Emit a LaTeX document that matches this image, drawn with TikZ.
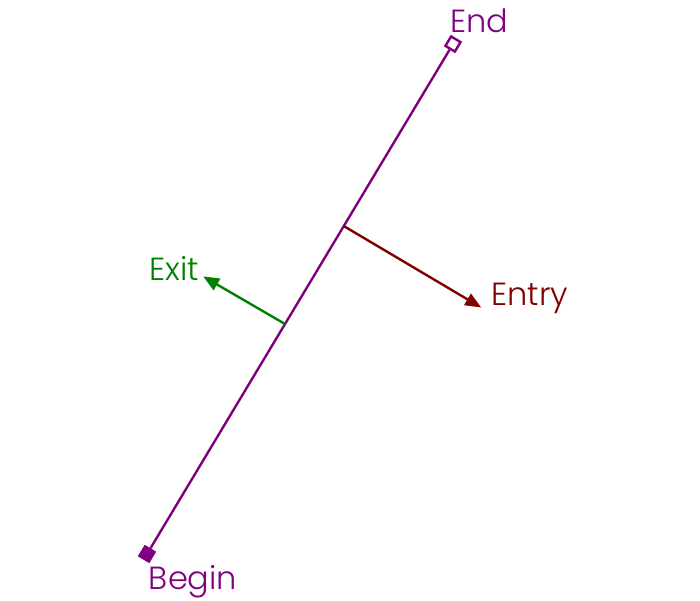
\documentclass[tikz,border=0pt]{standalone}
\usepackage{fontspec}
\newfontfamily\labelfont{Poppins Light}
\usetikzlibrary{arrows.meta,calc}
\definecolor{segpurple}{RGB}{128,0,128}
\definecolor{exitgreen}{RGB}{0,128,0}
\definecolor{entrymaroon}{RGB}{128,0,0}

\begin{document}
\begin{tikzpicture}[
    x=0.5pt,y=0.5pt,
    endsq/.style={draw=segpurple,line width=1.2pt,minimum size=5.5pt,inner sep=0pt,rotate=59},
    lbl/.style={font=\fontsize{16}{16}\selectfont\labelfont,inner sep=1pt},
    seg/.style={draw=segpurple,line width=1.2pt},
    dir/.style={-{Triangle[length=8pt,width=6.5pt]},line width=1.2pt},
]

\useasboundingbox (0,0) rectangle (700,600);

%----------------------------------
% Segment with its two ends
%----------------------------------

\node[endsq,fill=segpurple] (bsq) at (147,46) {};
\node[endsq,fill=white] (esq) at (453,556) {};

\draw[seg] (bsq) -- (esq);

\node[lbl,text=segpurple] (begin) at (193,18) {Begin};
\node[lbl,text=segpurple] (end) at (479,579) {End};

%----------------------------------
% Normals
%----------------------------------

\coordinate (exitfoot) at ($(bsq)!0.451!(esq)$);
\coordinate (entryfoot) at ($(bsq)!0.643!(esq)$);

\node[lbl,text=exitgreen] (exit) at (174,332) {Exit};
\node[lbl,text=entrymaroon] (entry) at (530,302) {Entry};

\draw[dir,exitgreen] (exitfoot) -- ([xshift=1pt,yshift=3pt]exit.south east);
\draw[dir,entrymaroon] (entryfoot) -- ([xshift=-4pt,yshift=-1.2pt]entry.base west);

\end{tikzpicture}
\end{document}
